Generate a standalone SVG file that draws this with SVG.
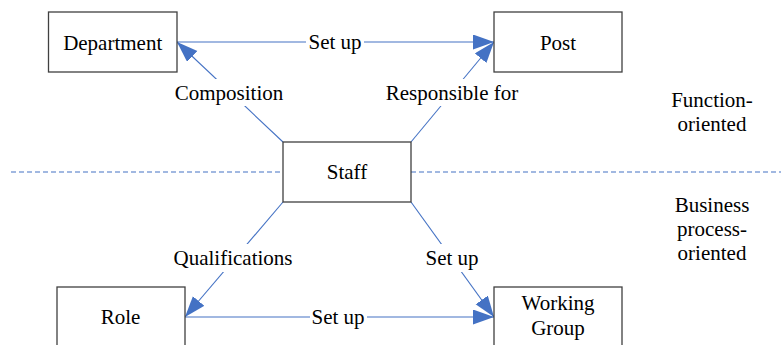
<svg xmlns="http://www.w3.org/2000/svg" width="781" height="345" viewBox="0 0 781 345" font-family="Liberation Serif, Times New Roman, serif">
<style>
.box{fill:#fff;stroke:#404040;stroke-width:1.3}
.t{font-size:21px;fill:#000;text-anchor:middle}
.c{stroke:#4472C4;stroke-width:1.1;fill:none}
.bg{fill:#fff}
</style>
<defs>
<marker id="ah" markerUnits="userSpaceOnUse" markerWidth="22" markerHeight="16" refX="21" refY="7.5" orient="auto">
<path d="M0,0 L21,7.5 L0,15 z" fill="#4472C4"/>
</marker>
</defs>
<rect width="781" height="345" fill="#fff"/>
<line x1="11" y1="172" x2="781" y2="172" stroke="#4472C4" stroke-width="1.2" stroke-dasharray="5 3"/>
<g id="connectors">
<line class="c" x1="177" y1="42" x2="494" y2="42" marker-end="url(#ah)"/>
<line class="c" x1="283" y1="142" x2="177" y2="42" marker-end="url(#ah)"/>
<line class="c" x1="411" y1="142" x2="494" y2="42" marker-end="url(#ah)"/>
<line class="c" x1="283" y1="202" x2="185" y2="317" marker-end="url(#ah)"/>
<line class="c" x1="411" y1="202" x2="494" y2="317" marker-end="url(#ah)"/>
<line class="c" x1="185" y1="317" x2="494" y2="317" marker-end="url(#ah)"/>
<rect class="bg" x="306" y="30" width="58" height="24"/>
<text class="t" x="335" y="48.5">Set up</text>
<rect class="bg" x="174" y="79" width="111" height="27"/>
<text class="t" x="229" y="100">Composition</text>
<rect class="bg" x="385" y="79" width="135" height="27"/>
<text class="t" x="452" y="100">Responsible for</text>
<rect class="bg" x="172" y="244" width="123" height="28"/>
<text class="t" x="233" y="265">Qualifications</text>
<rect class="bg" x="423" y="244" width="58" height="28"/>
<text class="t" x="452" y="265">Set up</text>
<rect class="bg" x="310" y="305" width="57" height="24"/>
<text class="t" x="338" y="323.5">Set up</text>
</g>
<g id="department"><rect class="box" x="48.5" y="12" width="128.5" height="60"/><text class="t" x="112.7" y="49.5">Department</text></g>
<g id="post"><rect class="box" x="494" y="12" width="128" height="60"/><text class="t" x="558" y="49.5">Post</text></g>
<g id="staff"><rect class="box" x="283" y="142" width="128" height="60"/><text class="t" x="347" y="178.5">Staff</text></g>
<g id="role"><rect class="box" x="57" y="287" width="128" height="60"/><text class="t" x="120.5" y="323.5">Role</text></g>
<g id="working-group"><rect class="box" x="494" y="287" width="128" height="60"/><text class="t" x="558" y="310">Working</text><text class="t" x="558" y="335">Group</text></g>
<g id="function-oriented"><text class="t" x="712" y="106.5">Function-</text><text class="t" x="712" y="130.5">oriented</text></g>
<g id="business-process-oriented"><text class="t" x="712" y="212">Business</text><text class="t" x="712" y="236">process-</text><text class="t" x="712" y="260">oriented</text></g>
</svg>
